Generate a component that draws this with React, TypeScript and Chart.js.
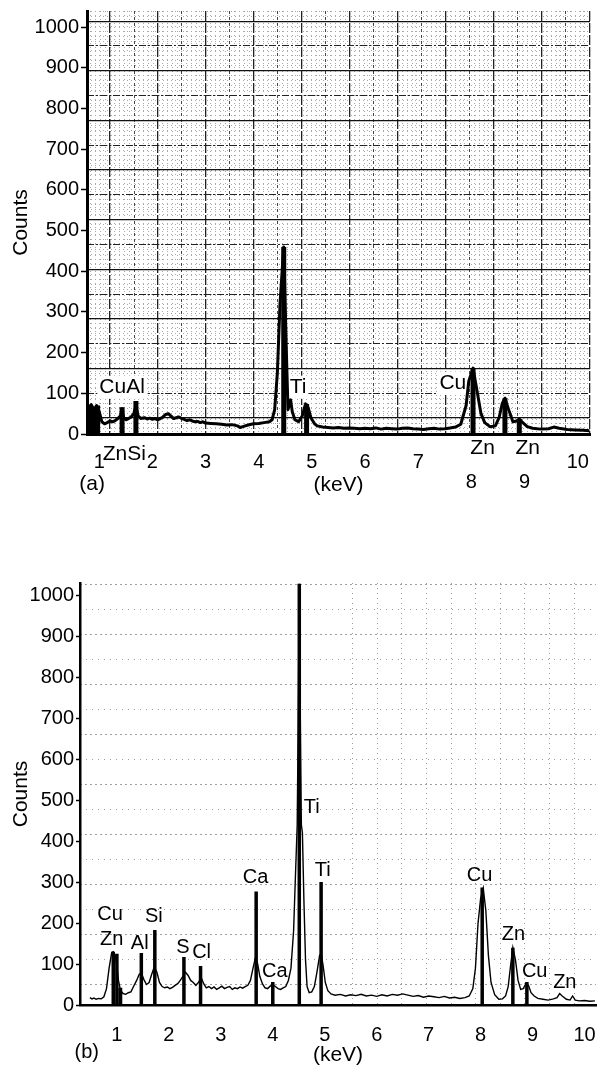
import React, { useEffect, useRef } from "react";
import { Chart, registerables } from "chart.js";

Chart.register(...registerables);

const FONT = '"Liberation Sans", Arial, Helvetica, sans-serif';

// ---------------- shared tick labels ----------------
const xTickValues = [1, 2, 3, 4, 5, 6, 7, 8, 9, 10];
const yTickValues = [0, 100, 200, 300, 400, 500, 600, 700, 800, 900, 1000];
const aLoweredTicks = [8, 9];

// ---------------- panel (a) spectrum ----------------
const aEnergy = [
  0.77, 0.8, 0.85, 0.9, 0.95, 1.0, 1.05, 1.1, 1.15, 1.2,
  1.25, 1.3, 1.35, 1.4, 1.43, 1.46, 1.5, 1.55, 1.6, 1.65,
  1.69, 1.73, 1.78, 1.85, 1.9, 1.95, 2.0, 2.05, 2.1, 2.15,
  2.2, 2.25, 2.3, 2.35, 2.4, 2.45, 2.5, 2.55, 2.6, 2.65,
  2.7, 2.75, 2.8, 2.85, 2.9, 2.95, 3.0, 3.1, 3.2, 3.3,
  3.4, 3.5, 3.6, 3.65, 3.7, 3.8, 3.9, 4.0, 4.1, 4.2,
  4.25, 4.3, 4.35, 4.4, 4.47, 4.52, 4.55, 4.6, 4.63, 4.68,
  4.75, 4.82, 4.88, 4.93, 4.98, 5.05, 5.1, 5.2, 5.3, 5.4,
  5.5, 5.6, 5.7, 5.8, 5.9, 6.0, 6.1, 6.2, 6.3, 6.4,
  6.5, 6.6, 6.7, 6.8, 6.9, 7.0, 7.1, 7.2, 7.3, 7.4,
  7.5, 7.6, 7.7, 7.8, 7.9, 7.95, 8.03, 8.1, 8.18, 8.25,
  8.35, 8.45, 8.52, 8.58, 8.63, 8.7, 8.78, 8.85, 8.9, 8.95,
  9.05, 9.15, 9.3, 9.45, 9.55, 9.65, 9.8, 9.95, 10.1, 10.22,
];
const aCounts = [
  40, 65, 72, 60, 70, 55, 30, 25, 28, 32,
  30, 33, 38, 45, 62, 40, 35, 38, 42, 50,
  70, 45, 38, 40, 37, 39, 36, 38, 35, 38,
  42, 48, 50, 44, 38, 40, 42, 38, 36, 33,
  35, 32, 30, 31, 28, 30, 27, 26, 25, 24,
  22, 23, 20, 16, 18, 22, 25, 26, 28, 30,
  35, 60, 150, 320, 460, 200, 60, 84, 55, 35,
  30, 45, 74, 65, 40, 25, 20, 17, 16, 15,
  16, 14, 15, 14, 13, 14, 13, 15, 12, 14,
  13, 12, 14, 15, 13, 12, 11, 13, 14, 12,
  13, 15, 17, 24, 70, 130, 162, 110, 50, 28,
  18, 20, 40, 75, 88, 60, 30, 32, 37, 30,
  18, 14, 12, 13, 17, 14, 11, 10, 9, 8,
];
const aMarkerKeV = [0.82, 0.9, 0.97, 1.43, 1.69, 4.47, 4.9, 8.03, 8.63, 8.9];
const aMarkerCounts = [72, 64, 70, 66, 81, 460, 74, 162, 88, 37];
const aLabelText = ["CuAl", "Ti", "Cu", "ZnSi", "Zn", "Zn", "(a)"];
const aLabelKeV = [1.43, 4.74, 7.65, 1.47, 8.21, 9.06, 0.865];
const aLabelCounts = [115, 115, 125, -49, -34, -34, -123];

// ---------------- panel (b) spectrum ----------------
const bEnergy = [
  0.48, 0.52, 0.56, 0.6, 0.65, 0.7, 0.75, 0.8, 0.85, 0.9,
  0.93, 0.97, 1.0, 1.03, 1.07, 1.12, 1.17, 1.22, 1.27, 1.32,
  1.38, 1.43, 1.47, 1.52, 1.57, 1.62, 1.67, 1.72, 1.77, 1.82,
  1.87, 1.92, 1.97, 2.02, 2.07, 2.12, 2.17, 2.22, 2.27, 2.32,
  2.37, 2.42, 2.47, 2.52, 2.57, 2.62, 2.67, 2.72, 2.77, 2.82,
  2.87, 2.92, 2.97, 3.02, 3.07, 3.12, 3.17, 3.22, 3.27, 3.32,
  3.37, 3.42, 3.47, 3.52, 3.57, 3.62, 3.67, 3.71, 3.75, 3.8,
  3.85, 3.9, 3.95, 4.0, 4.05, 4.1, 4.15, 4.2, 4.25, 4.3,
  4.35, 4.4, 4.44, 4.47, 4.49, 4.51, 4.53, 4.55, 4.57, 4.6,
  4.63, 4.66, 4.7, 4.75, 4.8, 4.85, 4.9, 4.93, 4.97, 5.01,
  5.06, 5.12, 5.2, 5.3, 5.4, 5.5, 5.6, 5.7, 5.8, 5.9,
  6.0, 6.1, 6.2, 6.3, 6.4, 6.5, 6.6, 6.7, 6.8, 6.9,
  7.0, 7.1, 7.2, 7.3, 7.4, 7.5, 7.6, 7.7, 7.78, 7.85,
  7.9, 7.95, 8.0, 8.05, 8.1, 8.15, 8.2, 8.27, 8.35, 8.42,
  8.48, 8.53, 8.58, 8.62, 8.67, 8.72, 8.77, 8.82, 8.87, 8.92,
  8.97, 9.03, 9.1, 9.2, 9.3, 9.4, 9.47, 9.52, 9.57, 9.65,
  9.72, 9.77, 9.82, 9.9, 10.0, 10.1, 10.2,
];
const bCounts = [
  18, 15, 17, 14, 16, 15, 20, 40, 90, 128,
  130, 120, 95, 60, 35, 28, 26, 30, 32, 45,
  60, 75, 78, 62, 50, 55, 75, 93, 80, 55,
  45, 42, 44, 40, 43, 48, 52, 60, 70, 80,
  72, 60, 55, 48, 55, 68, 52, 42, 45, 40,
  44, 38, 42, 46, 40, 43, 45, 38, 42, 40,
  44, 41, 45, 48, 60, 90, 118, 100, 70, 52,
  42, 40, 46, 50, 45, 40, 38, 42, 45, 60,
  90, 180, 330, 440, 700, 1028, 700, 440, 420, 250,
  110, 45, 30, 32, 45, 80, 120, 127, 95, 55,
  35, 27, 24, 26, 22, 25, 23, 26, 22, 24,
  21, 25, 22, 26, 24, 27, 24, 21, 23, 19,
  22, 20, 18, 21, 17, 19, 16, 18, 22, 40,
  90, 200, 260, 285, 230, 120, 55, 25, 14, 15,
  22, 45, 100, 140, 110, 60, 38, 40, 52, 48,
  30, 22, 16, 14, 12, 15, 18, 28, 22, 14,
  12, 22, 12, 10, 11, 9, 10,
];
const bMarkerKeV = [0.93, 1.0, 1.07, 1.47, 1.73, 2.29, 2.61, 3.68, 4.0, 4.51, 4.93, 8.03, 8.62, 8.89];
const bMarkerCounts = [130, 125, 42, 127, 183, 117, 95, 277, 56, 1028, 300, 287, 140, 56];
const bLabelText = ["Cu", "Zn", "Al", "Si", "S", "Cl", "Ca", "Ca", "Ti", "Ti", "Cu", "Zn", "Cu", "Zn", "(b)"];
const bLabelKeV = [0.87, 0.9, 1.44, 1.71, 2.27, 2.63, 3.67, 4.04, 4.75, 4.96, 7.98, 8.63, 9.04, 9.62, 0.42];
const bLabelCounts = [222, 161, 151, 215, 141, 127, 312, 83, 483, 329, 317, 171, 83, 56, -115];

// ---------------- helpers ----------------
function pairs(xs: number[], ys: number[]) {
  return xs.map((x, i) => ({ x, y: ys[i] }));
}
function markerSegments(xs: number[], hs: number[]) {
  const out: { x: number; y: number | null }[] = [];
  xs.forEach((x, i) => {
    out.push({ x, y: 0 }, { x, y: hs[i] }, { x, y: null });
  });
  return out;
}
function seq(start: number, step: number, lo: number, hi: number) {
  const out: number[] = [];
  let k = Math.ceil((lo - start) / step - 1e-9);
  for (; ; k++) {
    const v = start + k * step;
    if (v > hi + 1e-9) break;
    if (v >= lo - 1e-9) out.push(v);
  }
  return out;
}
function zeroPad(s: any) {
  s.paddingLeft = 0;
  s.paddingRight = 0;
  s.paddingTop = 0;
  s.paddingBottom = 0;
}
function gridScale(
  position: "top" | "right",
  min: number,
  max: number,
  values: number[],
  color: string,
  width: number,
  dash: number[]
) {
  const horizontal = position === "top";
  return {
    type: "linear",
    position,
    min,
    max,
    display: true,
    afterBuildTicks: (s: any) => {
      s.ticks = values.map((v) => ({ value: v }));
    },
    afterFit: (s: any) => {
      if (horizontal) s.height = 0;
      else s.width = 0;
      zeroPad(s);
    },
    ticks: { display: false },
    grid: { display: true, drawOnChartArea: true, drawTicks: false, color, lineWidth: width },
    border: { display: false, dash },
  };
}
function labelPlugin(texts: string[], kevs: number[], counts: number[], size: number, boxed: boolean) {
  return {
    id: "peakLabels",
    beforeDatasetsDraw(chart: any) {
      const { ctx } = chart;
      const xs = chart.scales.x;
      const ys = chart.scales.y;
      ctx.save();
      ctx.font = `${size}px ${FONT}`;
      ctx.textAlign = "center";
      ctx.textBaseline = "middle";
      texts.forEach((t, i) => {
        const px = xs.getPixelForValue(kevs[i]);
        const py = ys.getPixelForValue(counts[i]);
        if (boxed && counts[i] >= 0) {
          const w = ctx.measureText(t).width;
          ctx.fillStyle = "#fff";
          ctx.fillRect(px - w / 2 - 2, py - size * 0.55, w + 4, size * 1.1);
        }
        ctx.fillStyle = "#000";
        ctx.fillText(t, px, py);
      });
      ctx.restore();
    },
  };
}

function mainScales(opts: {
  xMin: number;
  xMax: number;
  yMax: number;
  yWidth: number;
  xHeight: number;
  border: number;
  tickLen: number;
  xPad: number;
  keVPad: number;
  lowered: number[];
}) {
  return {
    x: {
      type: "linear",
      position: "bottom",
      min: opts.xMin,
      max: opts.xMax,
      afterBuildTicks: (s: any) => {
        s.ticks = xTickValues.map((v) => ({ value: v }));
      },
      afterFit: (s: any) => {
        s.height = opts.xHeight;
        zeroPad(s);
      },
      ticks: {
        color: "#000",
        font: { family: FONT, size: 20, lineHeight: 1.0 },
        padding: opts.xPad,
        maxRotation: 0,
        autoSkip: false,
        callback: (v: any) => (opts.lowered.includes(v) ? ["", String(v)] : String(v)),
      },
      grid: { display: false },
      border: { display: true, color: "#000", width: opts.border },
      title: {
        display: true,
        text: "(keV)",
        color: "#000",
        font: { family: FONT, size: 21 },
        padding: { top: 0, bottom: opts.keVPad },
      },
    },
    y: {
      type: "linear",
      position: "left",
      min: 0,
      max: opts.yMax,
      afterBuildTicks: (s: any) => {
        s.ticks = yTickValues.map((v) => ({ value: v }));
      },
      afterFit: (s: any) => {
        s.width = opts.yWidth;
        zeroPad(s);
      },
      ticks: {
        color: "#000",
        font: { family: FONT, size: 20 },
        padding: 2,
        callback: (v: any) => String(v),
      },
      grid: {
        display: true,
        drawOnChartArea: false,
        drawTicks: true,
        tickLength: opts.tickLen,
        tickWidth: 1.5,
        tickColor: "#000",
        color: "#000",
      },
      border: { display: true, color: "#000", width: opts.border },
      title: {
        display: true,
        text: "Counts",
        color: "#000",
        font: { family: FONT, size: 21 },
        padding: { top: 9, bottom: 0 },
      },
    },
  };
}

function configA(): any {
  const xMin = 0.77;
  const xMax = 10.23;
  const yMax = 1040;
  return {
    type: "line",
    data: {
      datasets: [
        {
          data: markerSegments(aMarkerKeV, aMarkerCounts),
          borderColor: "#000",
          borderWidth: 5,
          pointRadius: 0,
          spanGaps: false,
          borderCapStyle: "butt",
        },
        {
          data: pairs(aEnergy, aCounts),
          borderColor: "#000",
          borderWidth: 3,
          pointRadius: 0,
          tension: 0,
          borderJoinStyle: "round",
        },
      ],
    },
    options: {
      animation: false,
      responsive: false,
      devicePixelRatio: 1,
      events: [],
      layout: { padding: { top: 11, right: 10, left: 0, bottom: 0 } },
      plugins: { legend: { display: false }, tooltip: { enabled: false } },
      scales: {
        ...mainScales({
          xMin,
          xMax,
          yMax,
          yWidth: 87,
          xHeight: 66,
          border: 3,
          tickLen: 6,
          xPad: 10,
          keVPad: 2,
          lowered: aLoweredTicks,
        }),
        gxDots: gridScale("top", xMin, xMax, seq(1.203, 0.0902, xMin, xMax), "#a8a8a8", 1, [1, 3]),
        gyDots: gridScale("right", 0, yMax, seq(39, 12.2, 0, yMax), "#a8a8a8", 1, [1, 3]),
        gxMinor: gridScale("top", xMin, xMax, seq(1.654, 0.902, xMin, xMax), "#444", 1, [3, 3]),
        gxMajor: gridScale("top", xMin, xMax, seq(1.203, 0.902, xMin, xMax), "#222", 1.3, [10, 2]),
        gyMinor: gridScale("right", 0, yMax, seq(100, 122, 0, yMax), "#222", 1.1, [7, 2, 2, 2]),
        gyMajor: gridScale("right", 0, yMax, seq(39, 122, 0, yMax), "#111", 1.3, []),
      },
    },
    plugins: [labelPlugin(aLabelText, aLabelKeV, aLabelCounts, 21, true)],
  };
}

function configB(): any {
  const xMin = 0.29;
  const xMax = 10.22;
  const yMax = 1030;
  return {
    type: "line",
    data: {
      datasets: [
        {
          data: markerSegments(bMarkerKeV, bMarkerCounts),
          borderColor: "#000",
          borderWidth: 3.5,
          pointRadius: 0,
          spanGaps: false,
          borderCapStyle: "butt",
        },
        {
          data: pairs(bEnergy, bCounts),
          borderColor: "#000",
          borderWidth: 1.4,
          pointRadius: 0,
          tension: 0,
        },
      ],
    },
    options: {
      animation: false,
      responsive: false,
      devicePixelRatio: 1,
      events: [],
      layout: { padding: { top: 63, right: 4, left: 0, bottom: 0 } },
      plugins: { legend: { display: false }, tooltip: { enabled: false } },
      scales: {
        ...mainScales({
          xMin,
          xMax,
          yMax,
          yWidth: 80,
          xHeight: 63,
          border: 2.5,
          tickLen: 4,
          xPad: 12,
          keVPad: 0,
          lowered: [],
        }),
        gxDots: gridScale("top", xMin, xMax, seq(5.54, 0.473, 5.4, xMax), "#9a9a9a", 1, [1, 4]),
        gyMinor: gridScale("right", 0, yMax, seq(112, 122, 0, yMax), "#a0a0a0", 1, [1, 5]),
        gyMajor: gridScale("right", 0, yMax, seq(51, 122, 0, yMax), "#a0a0a0", 1, [2, 3]),
      },
    },
    plugins: [labelPlugin(bLabelText, bLabelKeV, bLabelCounts, 20, false)],
  };
}

export default function App() {
  const refA = useRef<HTMLCanvasElement>(null);
  const refB = useRef<HTMLCanvasElement>(null);

  useEffect(() => {
    const a = new Chart(refA.current as HTMLCanvasElement, configA());
    const b = new Chart(refB.current as HTMLCanvasElement, configB());
    return () => {
      a.destroy();
      b.destroy();
    };
  }, []);

  return (
    <div
      style={{
        position: "absolute",
        left: 0,
        top: 0,
        width: 600,
        height: 1068,
        background: "#fff",
        overflow: "hidden",
      }}
    >
      <canvas
        ref={refA}
        width={600}
        height={500}
        style={{ position: "absolute", left: 0, top: 0, width: 600, height: 500 }}
      />
      <canvas
        ref={refB}
        width={600}
        height={548}
        style={{ position: "absolute", left: 0, top: 520, width: 600, height: 548 }}
      />
    </div>
  );
}
